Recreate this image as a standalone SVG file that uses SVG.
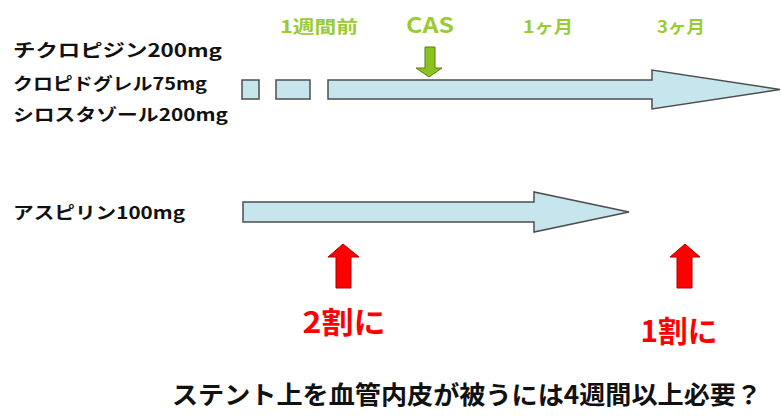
<svg xmlns="http://www.w3.org/2000/svg" width="781" height="416" viewBox="0 0 781 416">
<style>
.bar{fill:#c6e5ed;stroke:#4d4d4d;stroke-width:1.5}
.lbl{font-family:"Noto Sans CJK JP","Liberation Sans",sans-serif;font-weight:bold;fill:#111}
.grn{font-family:"Noto Sans CJK JP","Liberation Sans",sans-serif;font-weight:bold;fill:#99cc33}
.red{font-family:"Noto Sans CJK JP","Liberation Sans",sans-serif;font-weight:bold;fill:#ff0000}
.ga{fill:#8cc21f;stroke:#5a7d10;stroke-width:1}
.ra{fill:#ff0000;stroke:#b00000;stroke-width:1}
</style>
<rect width="781" height="416" fill="#fff"/>
<g id="labels-time">
<text class="grn" x="319" y="33" font-size="17" text-anchor="middle" textLength="78" lengthAdjust="spacingAndGlyphs">1週間前</text>
<text class="grn" x="430" y="33" font-size="21" text-anchor="middle" textLength="48" lengthAdjust="spacingAndGlyphs">CAS</text>
<text class="grn" x="548" y="33" font-size="17" text-anchor="middle" textLength="50" lengthAdjust="spacingAndGlyphs">1ヶ月</text>
<text class="grn" x="681" y="33" font-size="17" text-anchor="middle" textLength="48" lengthAdjust="spacingAndGlyphs">3ヶ月</text>
</g>
<g id="drugs-thieno">
<text class="lbl" x="13" y="57" font-size="18" textLength="209" lengthAdjust="spacingAndGlyphs">チクロピジン200mg</text>
<text class="lbl" x="13" y="90" font-size="17" textLength="194" lengthAdjust="spacingAndGlyphs">クロピドグレル75mg</text>
<text class="lbl" x="13" y="121" font-size="17" textLength="215" lengthAdjust="spacingAndGlyphs">シロスタゾール200mg</text>
</g>
<g id="timeline-top">
<rect class="bar" x="242" y="80" width="17" height="19"/>
<rect class="bar" x="276" y="80" width="34" height="19"/>
<polygon class="bar" points="328,80 652,80 652,70 780,89.5 652,109 652,99 328,99"/>
</g>
<g id="cas-arrow">
<polygon class="ga" points="425,47 435,47 435,68 442,68 429,77 416,68 425,68"/>
</g>
<g id="drug-aspirin">
<text class="lbl" x="13" y="219" font-size="17" textLength="172" lengthAdjust="spacingAndGlyphs">アスピリン100mg</text>
</g>
<g id="timeline-aspirin">
<polygon class="bar" points="243,202 534,202 534,192 629,212 534,232 534,222 243,222"/>
</g>
<g id="red-arrow-2">
<polygon class="ra" points="343,244 359,257 351,257 351,288 336,288 336,257 328,257"/>
<text class="red" x="344" y="333" font-size="30" text-anchor="middle" textLength="83" lengthAdjust="spacingAndGlyphs">2割に</text>
</g>
<g id="red-arrow-1">
<polygon class="ra" points="685,244 700,257 692,257 692,288 677,288 677,257 670,257"/>
<text class="red" x="679" y="342" font-size="30" text-anchor="middle" textLength="77" lengthAdjust="spacingAndGlyphs">1割に</text>
</g>
<g id="note">
<text class="lbl" x="172" y="404" font-size="25" textLength="590" lengthAdjust="spacingAndGlyphs">ステント上を血管内皮が被うには4週間以上必要？</text>
</g>
</svg>
